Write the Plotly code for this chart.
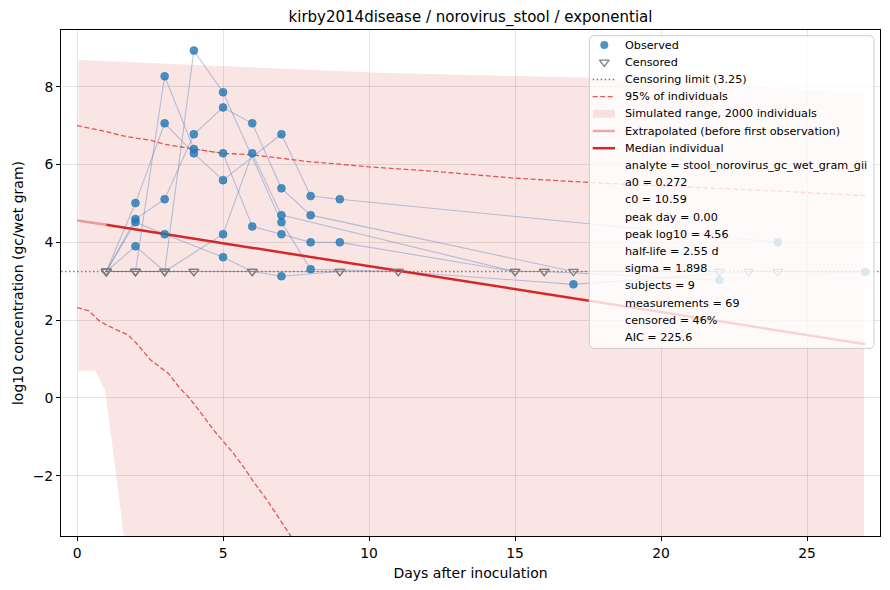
import pandas as pd
import plotly.graph_objects as go

# long format: one row per measurement, censored rows sit at the censoring limit
subject = ([1] * 8 + [2] * 11 + [3] * 9 + [4] * 10 + [5] * 7 + [6] * 9 + [7] * 8 + [8] * 4 + [9] * 3)
day = [1, 2, 3, 4, 5, 7, 8, 11,
       1, 2, 3, 4, 5, 6, 7, 8, 9, 15, 16,
       1, 2, 3, 4, 5, 7, 8, 9, 24,
       1, 2, 3, 4, 5, 6, 7, 8, 17, 22,
       1, 2, 3, 5, 6, 7, 9,
       1, 2, 3, 5, 6, 7, 15, 16, 22,
       1, 4, 9, 11, 17, 23, 24, 27,
       1, 2, 3, 4,
       1, 2, 6]
value = [None, None, None, 8.93, 7.86, 4.52, 3.31, None,
         None, None, 8.27, 6.40, 6.29, 4.41, 4.21, 4.00, 4.00, None, None,
         None, 5.01, 7.06, 6.29, 5.60, 6.78, 5.19, 5.11, 4.00,
         None, 4.60, 5.11, 6.78, 7.47, 7.06, 5.39, 4.70, None, None,
         None, 4.52, 4.21, 3.62, None, 3.13, None,
         None, 3.90, None, 4.21, 6.29, 4.70, None, None, 3.03,
         None, None, None, None, 2.92, None, None, 3.24,
         None, None, None, None,
         None, None, None]
cens_limit = 3.25

# model curves
extrap_days = [0, 1]
extrap_vals = [4.56, 4.45]
median_days = [1, 27]
median_vals = [4.45, 1.38]

upper_days = [0, 0.5, 1, 1.5, 2, 2.5, 3, 4, 5, 6, 7, 8, 9, 10, 12, 15, 18, 21, 24, 27]
upper_vals = [7.0, 6.93, 6.85, 6.75, 6.68, 6.63, 6.52, 6.40, 6.29, 6.25, 6.16, 6.07,
              6.01, 5.94, 5.84, 5.65, 5.52, 5.42, 5.32, 5.2]
lower_days = [0, 0.4, 0.73, 1.0, 1.3, 1.75, 2.04, 2.5, 2.84, 3.13, 3.52, 3.81, 4.21,
              4.67, 4.99, 5.35, 5.7, 6.04, 6.5, 6.95, 7.32, 8.0, 9.0]
lower_vals = [2.32, 2.24, 2.0, 1.88, 1.77, 1.62, 1.40, 0.99, 0.79, 0.63, 0.25, 0.03, -0.35,
              -0.82, -1.10, -1.42, -1.77, -2.15, -2.62, -3.14, -3.55, -4.6, -6.2]

band_days = [0.05, 10.4, 17.6, 26.95]
band_top = [8.69, 8.36, 8.23, 7.85]
band_low_days = [0.05, 0.62, 0.96, 1.36, 1.6, 2.0, 26.95]
band_low = [0.70, 0.70, 0.20, -2.1, -3.55, -6.0, -6.0]

legend_labels = ["Observed", "Censored", "Censoring limit (3.25)", "95% of individuals",
                 "Simulated range, 2000 individuals", "Extrapolated (before first observation)",
                 "Median individual"]
info_lines = ["analyte = stool_norovirus_gc_wet_gram_gii", "a0 = 0.272", "c0 = 10.59",
              "peak day = 0.00", "peak log10 = 4.56", "half-life = 2.55 d", "sigma = 1.898",
              "subjects = 9", "measurements = 69", "censored = 46%", "AIC = 225.6"]

df = pd.DataFrame({"subject": subject, "day": day, "value": value})
df["censored"] = df["value"].isna()
df["y"] = df["value"].fillna(cens_limit)

RED = "#d62728"
BAND = "rgba(214,39,40,0.12)"
DASH_RED = "rgba(224,60,60,0.85)"
DASH = "5px,2.5px"
CENS_GREY = "rgba(110,110,110,0.9)"
DOT = "1.5px,2.5px"
EXTRAP = "rgba(214,39,40,0.4)"
BLUE = "rgba(31,119,180,0.8)"

# the page body has an 8px margin, so the figure is 8px smaller than the window
PAGE_OFF = 8
W, H = 890 - PAGE_OFF, 590 - PAGE_OFF

fig = go.Figure()

# simulated range band
fig.add_trace(go.Scatter(x=band_days + band_low_days[::-1], y=band_top + band_low[::-1],
                         fill="toself", fillcolor=BAND, mode="none"))

# subject trajectories
for s, g in df.groupby("subject"):
    g = g.sort_values("day")
    fig.add_trace(go.Scatter(x=g["day"], y=g["y"], mode="lines",
                             line=dict(color="rgba(70,120,180,0.38)", width=1.1), hoverinfo="skip"))

fig.add_trace(go.Scatter(x=[-0.55, 27.5], y=[cens_limit, cens_limit], mode="lines",
                         line=dict(color=CENS_GREY, width=1.5, dash=DOT)))
fig.add_trace(go.Scatter(x=upper_days, y=upper_vals, mode="lines",
                         line=dict(color=DASH_RED, width=1.3, dash=DASH)))
fig.add_trace(go.Scatter(x=lower_days, y=lower_vals, mode="lines",
                         line=dict(color=DASH_RED, width=1.3, dash=DASH)))
fig.add_trace(go.Scatter(x=extrap_days, y=extrap_vals, mode="lines",
                         line=dict(color=EXTRAP, width=2.5)))
fig.add_trace(go.Scatter(x=median_days, y=median_vals, mode="lines",
                         line=dict(color=RED, width=2.5)))

obs = df[~df["censored"]]
cen = df[df["censored"]]
fig.add_trace(go.Scatter(x=obs["day"], y=obs["y"], mode="markers",
                         marker=dict(color=BLUE, size=8,
                                     line=dict(color="rgba(31,119,180,0.9)", width=0.5))))
fig.add_trace(go.Scatter(x=cen["day"], y=cen["y"], mode="markers",
                         marker=dict(symbol="triangle-down-open", color="#7f7f7f", size=8.5,
                                     line=dict(width=1.3))))

# legend box drawn on a pixel-coordinate overlay axis (x2/y2), matplotlib style
bx0, bx1, by0, by1, r = 589.3, 874.0, 35.7, 348.3, 3
box_x = [bx0 + r, bx1 - r, bx1, bx1, bx1 - r, bx0 + r, bx0, bx0, bx0 + r]
box_y = [by0, by0, by0 + r, by1 - r, by1, by1, by1 - r, by0 + r, by0]
fig.add_trace(go.Scatter(x=box_x, y=box_y, xaxis="x2", yaxis="y2", mode="lines", fill="toself",
                         fillcolor="rgba(255,255,255,0.8)", line=dict(color="#cccccc", width=1)))

row0, dy = 45.0, 17.2
hx0, hx1, hxc, tx = 592.7, 615.0, 604.3, 624.3
rows = [row0 + dy * i for i in range(len(legend_labels) + len(info_lines))]

fig.add_trace(go.Scatter(x=[hxc], y=[rows[0]], xaxis="x2", yaxis="y2", mode="markers",
                         marker=dict(color=BLUE, size=8)))
fig.add_trace(go.Scatter(x=[hxc], y=[rows[1]], xaxis="x2", yaxis="y2", mode="markers",
                         marker=dict(symbol="triangle-down-open", color="#7f7f7f", size=8.5,
                                     line=dict(width=1.3))))
fig.add_trace(go.Scatter(x=[hx0, hx1], y=[rows[2]] * 2, xaxis="x2", yaxis="y2", mode="lines",
                         line=dict(color=CENS_GREY, width=1.5, dash=DOT)))
fig.add_trace(go.Scatter(x=[hx0, hx1], y=[rows[3]] * 2, xaxis="x2", yaxis="y2", mode="lines",
                         line=dict(color=DASH_RED, width=1.3, dash=DASH)))
fig.add_trace(go.Scatter(x=[hx0, hx1, hx1, hx0, hx0],
                         y=[rows[4] - 4, rows[4] - 4, rows[4] + 4, rows[4] + 4, rows[4] - 4],
                         xaxis="x2", yaxis="y2", mode="none", fill="toself", fillcolor=BAND))
fig.add_trace(go.Scatter(x=[hx0, hx1], y=[rows[5]] * 2, xaxis="x2", yaxis="y2", mode="lines",
                         line=dict(color=EXTRAP, width=2.5)))
fig.add_trace(go.Scatter(x=[hx0, hx1], y=[rows[6]] * 2, xaxis="x2", yaxis="y2", mode="lines",
                         line=dict(color=RED, width=2.5)))

for t, yy in zip(legend_labels + info_lines, rows):
    fig.add_annotation(x=tx, y=yy, xref="x2", yref="y2", text=t, showarrow=False,
                       xanchor="left", yanchor="middle", font=dict(size=11.2), borderpad=0)

axis = dict(showline=True, linecolor="black", linewidth=1, mirror=True, ticks="outside",
            ticklen=4, tickcolor="black", gridcolor="rgba(0,0,0,0.1)", zeroline=False,
            tickfont=dict(size=13.9, color="black"), automargin=False)

fig.update_layout(
    width=W, height=H, autosize=False,
    margin=dict(l=61 - PAGE_OFF, r=10, t=30 - PAGE_OFF, b=54),
    plot_bgcolor="white", paper_bgcolor="white",
    font=dict(family="DejaVu Sans", color="black"),
    showlegend=False,
    title=dict(text="kirby2014disease / norovirus_stool / exponential",
               x=(470.5 - PAGE_OFF) / W, xref="container", xanchor="center",
               y=1 - (17 - PAGE_OFF) / H, yanchor="middle", font=dict(size=15)),
    xaxis=dict(axis, range=[-0.55, 27.5], tickvals=[0, 5, 10, 15, 20, 25],
               title=dict(text="Days after inoculation", font=dict(size=14), standoff=8)),
    yaxis=dict(axis, range=[-3.55, 9.46], tickvals=[-2, 0, 2, 4, 6, 8],
               title=dict(text="log10 concentration (gc/wet gram)", font=dict(size=14), standoff=5)),
    xaxis2=dict(overlaying="x", range=[61, 880], visible=False, fixedrange=True),
    yaxis2=dict(overlaying="y", range=[536, 30], visible=False, fixedrange=True),
)

fig.write_html("out.html")
